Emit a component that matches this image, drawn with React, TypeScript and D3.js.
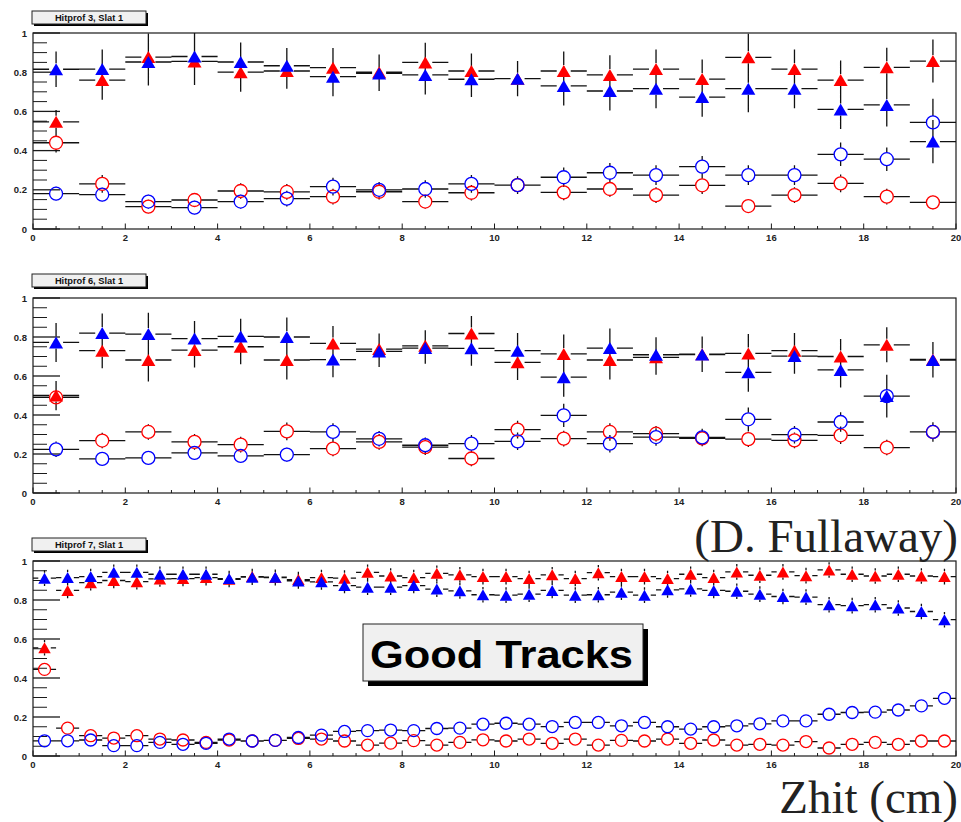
import React from "react";
import * as d3 from "d3";

// ---------- data ----------
const yTickValues = [0, 0.2, 0.4, 0.6, 0.8, 1];
const xTickValues = [0, 2, 4, 6, 8, 10, 12, 14, 16, 18, 20];
const panelTitles = ["Hitprof 3, Slat 1", "Hitprof 6, Slat 1", "Hitprof 7, Slat 1"];

// Panel 1 (20 bins of 1 cm)
const p1RedTri = [0.547, 0.76, 0.877, 0.855, 0.8, 0.806, 0.823, 0.8, 0.85, 0.806, 0.767, 0.806, 0.786, 0.816, 0.765, 0.876, 0.816, 0.76, 0.825, 0.857];
const p1BlueTri = [0.815, 0.816, 0.852, 0.88, 0.852, 0.833, 0.777, 0.794, 0.786, 0.764, 0.767, 0.73, 0.704, 0.716, 0.673, 0.716, 0.716, 0.61, 0.633, 0.446];
const p1RedCirc = [0.44, 0.23, 0.114, 0.148, 0.194, 0.189, 0.165, 0.19, 0.14, 0.185, 0.224, 0.187, 0.204, 0.173, 0.223, 0.117, 0.173, 0.233, 0.165, 0.136];
const p1BlueCirc = [0.18, 0.175, 0.14, 0.109, 0.14, 0.155, 0.216, 0.2, 0.204, 0.23, 0.224, 0.264, 0.287, 0.275, 0.318, 0.275, 0.275, 0.381, 0.356, 0.544];
const p1RedTriErr = [0.06, 0.1, 0.12, 0.12, 0.1, 0.09, 0.1, 0.09, 0.1, 0.09, 0.09, 0.1, 0.1, 0.1, 0.1, 0.12, 0.1, 0.1, 0.1, 0.11];
const p1BlueTriErr = [0.09, 0.1, 0.12, 0.13, 0.1, 0.09, 0.1, 0.09, 0.1, 0.09, 0.09, 0.1, 0.1, 0.1, 0.1, 0.12, 0.1, 0.1, 0.11, 0.11];
const p1RedCircErr = [0.05, 0.045, 0.035, 0.035, 0.04, 0.04, 0.04, 0.04, 0.035, 0.04, 0.045, 0.04, 0.04, 0.04, 0.045, 0.035, 0.04, 0.045, 0.04, 0.035];
const p1BlueCircErr = [0.035, 0.035, 0.035, 0.035, 0.035, 0.04, 0.045, 0.04, 0.045, 0.045, 0.045, 0.05, 0.05, 0.05, 0.055, 0.05, 0.05, 0.06, 0.06, 0.12];

// Panel 2 (20 bins of 1 cm)
const p2RedTri = [0.5, 0.73, 0.682, 0.733, 0.75, 0.682, 0.767, 0.738, 0.755, 0.818, 0.67, 0.713, 0.682, 0.696, 0.712, 0.716, 0.73, 0.7, 0.76, 0.685];
const p2BlueTri = [0.772, 0.82, 0.815, 0.792, 0.803, 0.8, 0.684, 0.726, 0.743, 0.742, 0.73, 0.594, 0.743, 0.709, 0.71, 0.619, 0.702, 0.631, 0.497, 0.682];
const p2RedCirc = [0.49, 0.269, 0.313, 0.262, 0.248, 0.316, 0.228, 0.262, 0.235, 0.177, 0.325, 0.279, 0.313, 0.304, 0.28, 0.276, 0.27, 0.296, 0.233, 0.313];
const p2BlueCirc = [0.224, 0.175, 0.18, 0.206, 0.19, 0.197, 0.313, 0.278, 0.245, 0.253, 0.265, 0.398, 0.253, 0.287, 0.285, 0.378, 0.299, 0.364, 0.497, 0.313];
const p2RedTriErr = [0.075, 0.09, 0.11, 0.09, 0.09, 0.1, 0.09, 0.08, 0.08, 0.09, 0.09, 0.1, 0.1, 0.09, 0.09, 0.1, 0.09, 0.09, 0.09, 0.09];
const p2BlueTriErr = [0.1, 0.1, 0.11, 0.09, 0.09, 0.1, 0.09, 0.08, 0.08, 0.09, 0.09, 0.1, 0.1, 0.09, 0.09, 0.1, 0.09, 0.09, 0.11, 0.09];
const p2RedCircErr = [0.06, 0.04, 0.04, 0.04, 0.04, 0.045, 0.04, 0.04, 0.04, 0.04, 0.045, 0.04, 0.045, 0.04, 0.04, 0.04, 0.04, 0.045, 0.04, 0.045];
const p2BlueCircErr = [0.04, 0.035, 0.035, 0.035, 0.035, 0.035, 0.045, 0.04, 0.04, 0.045, 0.045, 0.06, 0.045, 0.045, 0.045, 0.06, 0.045, 0.05, 0.11, 0.05];

// Panel 3 (40 bins of 0.5 cm)
const p3RedTri = [0.555, 0.849, 0.889, 0.9, 0.894, 0.908, 0.91, 0.915, 0.906, 0.92, 0.915, 0.905, 0.915, 0.912, 0.942, 0.923, 0.915, 0.937, 0.929, 0.92,
  0.92, 0.91, 0.929, 0.91, 0.94, 0.92, 0.92, 0.91, 0.932, 0.915, 0.944, 0.927, 0.944, 0.925, 0.954, 0.932, 0.923, 0.932, 0.923, 0.92];
const p3BlueTri = [0.912, 0.915, 0.92, 0.942, 0.942, 0.932, 0.932, 0.932, 0.91, 0.917, 0.917, 0.898, 0.893, 0.874, 0.866, 0.866, 0.874, 0.856, 0.847, 0.827,
  0.825, 0.83, 0.849, 0.825, 0.827, 0.84, 0.825, 0.852, 0.857, 0.849, 0.845, 0.83, 0.818, 0.815, 0.776, 0.771, 0.776, 0.759, 0.741, 0.699];
const p3RedCirc = [0.444, 0.143, 0.104, 0.092, 0.104, 0.087, 0.082, 0.07, 0.082, 0.077, 0.08, 0.09, 0.087, 0.077, 0.056, 0.066, 0.079, 0.056, 0.07, 0.083,
  0.077, 0.087, 0.065, 0.087, 0.056, 0.08, 0.077, 0.087, 0.065, 0.082, 0.056, 0.06, 0.056, 0.074, 0.041, 0.06, 0.07, 0.06, 0.077, 0.077];
const p3BlueCirc = [0.078, 0.078, 0.082, 0.053, 0.053, 0.07, 0.06, 0.065, 0.087, 0.077, 0.08, 0.095, 0.107, 0.126, 0.13, 0.133, 0.13, 0.141, 0.143, 0.163,
  0.168, 0.163, 0.151, 0.172, 0.172, 0.155, 0.172, 0.15, 0.138, 0.15, 0.155, 0.165, 0.18, 0.18, 0.214, 0.223, 0.225, 0.236, 0.257, 0.296];
const p3TriErr = 0.04;
const p3CircErr = 0.022;

// ---------- layout ----------
const W = 961;
const H = 822;
const XL = 33;
const XR = 956;
const RED = "#ff0000";
const BLUE = "#0000ff";
const AXIS = "#1a1a1a";
const SANS = "Liberation Sans, Arial, sans-serif";

type Series = { values: number[]; errs: number[]; color: string; kind: "tri" | "circ" };
type PanelCfg = {
  title: string;
  top: number;
  bottom: number;
  titleY: number;
  binWidth: number;
  tri: [number, number];
  r: number;
  series: Series[];
};

const fill = (n: number, v: number) => Array.from({ length: n }, () => v);

const panels: PanelCfg[] = [
  {
    title: panelTitles[0], top: 33, bottom: 229, titleY: 11, binWidth: 1, tri: [14, 12], r: 6.5,
    series: [
      { values: p1RedTri, errs: p1RedTriErr, color: RED, kind: "tri" },
      { values: p1RedCirc, errs: p1RedCircErr, color: RED, kind: "circ" },
      { values: p1BlueTri, errs: p1BlueTriErr, color: BLUE, kind: "tri" },
      { values: p1BlueCirc, errs: p1BlueCircErr, color: BLUE, kind: "circ" },
    ],
  },
  {
    title: panelTitles[1], top: 298, bottom: 493, titleY: 274, binWidth: 1, tri: [14, 12], r: 6.5,
    series: [
      { values: p2RedTri, errs: p2RedTriErr, color: RED, kind: "tri" },
      { values: p2RedCirc, errs: p2RedCircErr, color: RED, kind: "circ" },
      { values: p2BlueTri, errs: p2BlueTriErr, color: BLUE, kind: "tri" },
      { values: p2BlueCirc, errs: p2BlueCircErr, color: BLUE, kind: "circ" },
    ],
  },
  {
    title: panelTitles[2], top: 561, bottom: 756, titleY: 538, binWidth: 0.5, tri: [12.5, 11], r: 6,
    series: [
      { values: p3RedTri, errs: fill(p3RedTri.length, p3TriErr), color: RED, kind: "tri" },
      { values: p3RedCirc, errs: fill(p3RedCirc.length, p3CircErr), color: RED, kind: "circ" },
      { values: p3BlueTri, errs: fill(p3BlueTri.length, p3TriErr), color: BLUE, kind: "tri" },
      { values: p3BlueCirc, errs: fill(p3BlueCirc.length, p3CircErr), color: BLUE, kind: "circ" },
    ],
  },
];

const x = d3.scaleLinear().domain([0, 20]).range([XL, XR]);

function Panel({ cfg }: { cfg: PanelCfg }) {
  const y = d3.scaleLinear().domain([0, 1]).range([cfg.bottom, cfg.top]);
  const hw = cfg.binWidth / 2;
  const [tw, th] = cfg.tri;
  const yMinor = d3.range(0, 1.0001, 0.05);
  const xMinor = d3.range(0, 20.0001, 0.5);
  const segs: string[] = [];
  cfg.series.forEach((s) => {
    const gx = s.kind === "tri" ? tw / 2 : cfg.r;
    const gy = s.kind === "tri" ? th / 2 : cfg.r;
    s.values.forEach((v, i) => {
      const c = (i + 0.5) * cfg.binWidth;
      const cx = x(c);
      const cy = y(v);
      const xl = x(c - hw);
      const xr = x(c + hw);
      const yt = Math.max(cfg.top, y(v + s.errs[i]));
      const yb = Math.min(cfg.bottom, y(v - s.errs[i]));
      if (cx - gx > xl) segs.push(`M${xl},${cy}H${cx - gx}`);
      if (xr > cx + gx) segs.push(`M${cx + gx},${cy}H${xr}`);
      if (cy - gy > yt) segs.push(`M${cx},${yt}V${cy - gy}`);
      if (yb > cy + gy) segs.push(`M${cx},${cy + gy}V${yb}`);
    });
  });
  const titleW = 114;
  const titleH = 13;
  return (
    <g>
      {/* title box */}
      <rect x={XL + 1} y={cfg.titleY + 2} width={titleW} height={titleH} fill="#000" />
      <rect x={XL - 1} y={cfg.titleY} width={titleW} height={titleH} fill="#f0f0f0" stroke="#222" strokeWidth={1} />
      <text x={XL - 1 + titleW / 2} y={cfg.titleY + 10} textAnchor="middle" fontFamily={SANS} fontWeight="bold" fontSize={9.3} fill="#111">
        {cfg.title}
      </text>
      {/* frame */}
      <rect x={XL} y={cfg.top} width={XR - XL} height={cfg.bottom - cfg.top} fill="none" stroke={AXIS} strokeWidth={1.2} />
      {/* y ticks */}
      {yMinor.map((t, i) => {
        const major = i % 4 === 0;
        return <line key={"ym" + i} x1={XL} x2={XL + (major ? 27 : 14)} y1={y(t)} y2={y(t)} stroke={AXIS} strokeWidth={major ? 1.3 : 1} />;
      })}
      {yTickValues.map((t) => (
        <text key={"yl" + t} x={27} y={y(t) + 3.5} textAnchor="end" fontFamily={SANS} fontWeight="bold" fontSize={9.5} fill="#222">
          {String(t)}
        </text>
      ))}
      {/* x ticks */}
      {xMinor.map((t, i) => {
        const major = i % 4 === 0;
        return <line key={"xm" + i} x1={x(t)} x2={x(t)} y1={cfg.bottom} y2={cfg.bottom - (major ? 5.5 : 3)} stroke={AXIS} strokeWidth={1} />;
      })}
      {xTickValues.map((t) => (
        <text key={"xl" + t} x={x(t)} y={cfg.bottom + 12} textAnchor="middle" fontFamily={SANS} fontWeight="bold" fontSize={9.5} fill="#222">
          {String(t)}
        </text>
      ))}
      {/* error bars */}
      <path d={segs.join("")} stroke="#111" strokeWidth={1.3} fill="none" />
      {/* markers */}
      {cfg.series.map((s, si) =>
        s.values.map((v, i) => {
          const cx = x((i + 0.5) * cfg.binWidth);
          const cy = y(v);
          if (s.kind === "circ") {
            return <circle key={si + "-" + i} cx={cx} cy={cy} r={cfg.r} fill="none" stroke={s.color} strokeWidth={1.3} />;
          }
          return (
            <polygon
              key={si + "-" + i}
              points={`${cx},${cy - th / 2} ${cx - tw / 2},${cy + th / 2} ${cx + tw / 2},${cy + th / 2}`}
              fill={s.color}
            />
          );
        })
      )}
    </g>
  );
}

export default function App() {
  return (
    <svg width={W} height={H} style={{ position: "absolute", left: 0, top: 0, background: "#fff" }}>
      <rect x={0} y={0} width={W} height={H} fill="#fff" />
      {panels.map((p, i) => (
        <Panel key={i} cfg={p} />
      ))}
      {/* Good Tracks label */}
      <rect x={368} y={629} width={280} height={57} fill="#000" />
      <rect x={363} y={624} width={280} height={57} fill="#f0f0f0" stroke="#222" strokeWidth={1} />
      <text x={370} y={668} fontFamily={SANS} fontWeight="bold" fontSize={38} textLength={263} lengthAdjust="spacingAndGlyphs" fill="#000">
        Good Tracks
      </text>
      <text x={958} y={552} textAnchor="end" fontFamily="Liberation Serif, Times New Roman, serif" fontSize={47} fill="#222">
        (D. Fullaway)
      </text>
      <text x={958} y={813} textAnchor="end" fontFamily="Liberation Serif, Times New Roman, serif" fontSize={47} fill="#222">
        Zhit (cm)
      </text>
    </svg>
  );
}
